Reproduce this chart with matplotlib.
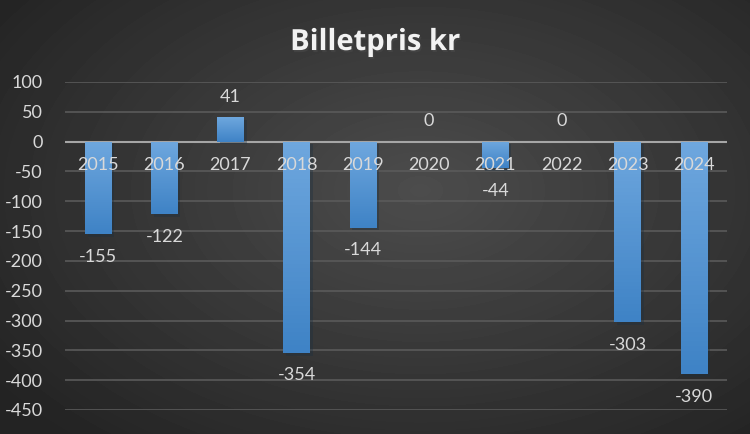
import numpy as np
import matplotlib
matplotlib.use("Agg")
import matplotlib.pyplot as plt
import matplotlib.patheffects as pe
from matplotlib.colors import LinearSegmentedColormap

years = ["2015", "2016", "2017", "2018", "2019", "2020", "2021", "2022", "2023", "2024"]
values = [-155, -122, 41, -354, -144, 0, -44, 0, -303, -390]
yticks = list(range(-450, 101, 50))

plt.rcParams["font.family"] = ["Lato", "DejaVu Sans"]

fig = plt.figure(figsize=(7.5, 4.34), dpi=100)

# radial-ish dark background
bg = fig.add_axes([0, 0, 1, 1], zorder=0)
yy, xx = np.mgrid[0:434, 0:750]
d = np.sqrt(((xx - 420) / 520.0) ** 2 + ((yy - 190) / 330.0) ** 2)
shade = np.clip(0.30 - 0.16 * d, 0.14, 0.30)
bg.imshow(shade, cmap="gray", vmin=0, vmax=1, aspect="auto", extent=[0, 1, 0, 1])
bg.axis("off")

ax = fig.add_axes([0.0867, 0.0553, 0.8826, 0.7558], zorder=1)
ax.patch.set_alpha(0)
x = np.arange(len(years))
bars = ax.bar(x, values, width=0.4, color="#5b9bd5", zorder=3,
              path_effects=[pe.SimplePatchShadow(offset=(2, -2), alpha=0.35), pe.Normal()])

cmap = LinearSegmentedColormap.from_list("b", ["#6ea7de", "#3f83c6"])
for b, v in zip(bars, values):
    if v == 0:
        continue
    bx = b.get_x()
    im = ax.imshow(np.linspace(0, 1, 50).reshape(-1, 1), cmap=cmap, aspect="auto",
                   extent=[bx, bx + b.get_width(), min(0, v), max(0, v)],
                   origin="upper", zorder=4)
    im.set_clip_path(b)

ax.set_xlim(-0.5, len(years) - 0.5)
ax.set_ylim(-450, 100)
ax.set_yticks(yticks)
ax.set_yticklabels([str(t) for t in yticks])
ax.tick_params(axis="y", length=0, colors="#d9d9d9", labelsize=13, pad=16)
ax.set_xticks([])
for s in ax.spines.values():
    s.set_visible(False)
ax.grid(axis="y", color="#5a5a5a", linewidth=1.2, zorder=1)
ax.set_axisbelow(True)
ax.axhline(0, color="#a6a6a6", linewidth=1.5, zorder=2)

for xi, yr in zip(x, years):
    ax.text(xi, -39, yr, ha="center", va="center", color="#d9d9d9", fontsize=13, zorder=6)

for xi, v in zip(x, values):
    if v < 0:
        ax.text(xi, v - 38, str(v), ha="center", va="center", color="#d9d9d9", fontsize=13, zorder=6)
    else:
        ax.text(xi, v + 34, str(v), ha="center", va="center", color="#d9d9d9", fontsize=13, zorder=6)

fig.text(0.5, 0.902, "Billetpris kr", ha="center", va="center", color="#f2f2f2",
         fontsize=21, fontweight="bold", family="Open Sans",
         path_effects=[pe.withSimplePatchShadow(offset=(1, -1.5), alpha=0.6)])

fig.savefig("out.png", dpi=100)
